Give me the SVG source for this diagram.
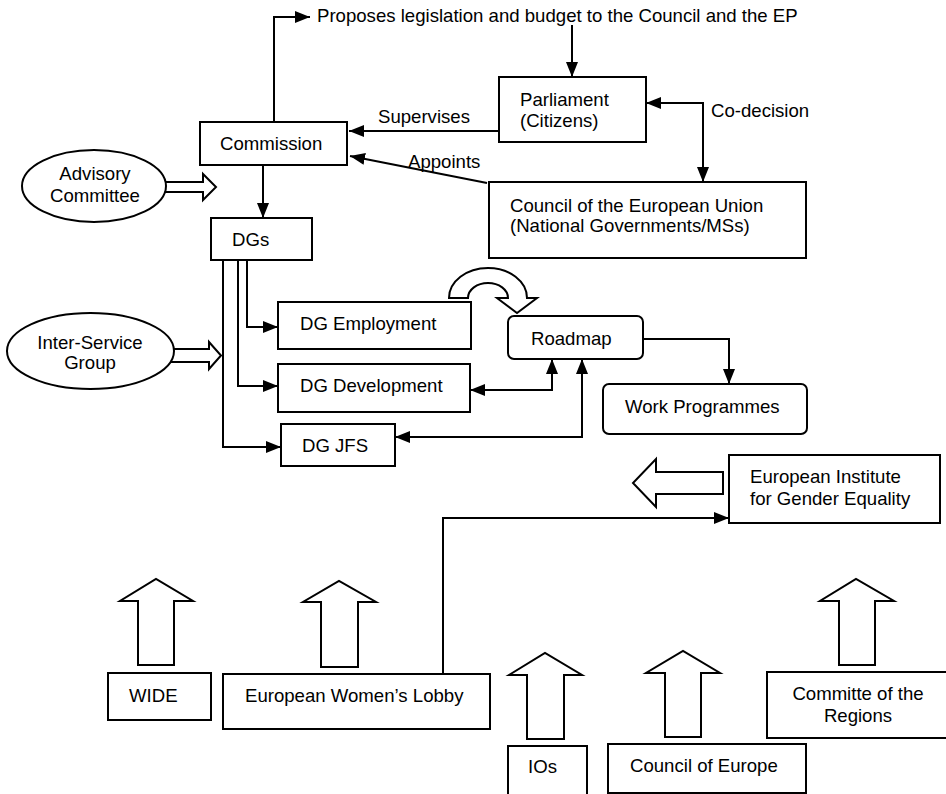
<svg xmlns="http://www.w3.org/2000/svg" width="946" height="794" viewBox="0 0 946 794">
<defs>
<style>
.box{fill:#fff;stroke:#000;stroke-width:2}
.blk{fill:#fff;stroke:#000;stroke-width:2;stroke-linejoin:miter}
.ln{fill:none;stroke:#000;stroke-width:2}
.t{font-family:"Liberation Sans",Arial,sans-serif;font-size:18.6px;fill:#000}
.c{text-anchor:middle}
</style>
<marker id="ah" markerUnits="userSpaceOnUse" markerWidth="15" markerHeight="12" refX="15" refY="6" orient="auto-start-reverse">
<path d="M0,0 L15,6 L0,12 z" fill="#000"/>
</marker>
</defs>
<rect width="946" height="794" fill="#fff"/>

<g id="connectors">
<path class="ln" d="M274,122 V17 H310" marker-end="url(#ah)"/>
<path class="ln" d="M572,25 V77" marker-end="url(#ah)"/>
<path class="ln" d="M499,131 H349" marker-end="url(#ah)"/>
<path class="ln" d="M487,183 L350,156" marker-end="url(#ah)"/>
<path class="ln" d="M646,103 H703 V182" marker-start="url(#ah)" marker-end="url(#ah)"/>
<path class="ln" d="M263,165 V218" marker-end="url(#ah)"/>
<path class="ln" d="M247,260 V327 H278" marker-end="url(#ah)"/>
<path class="ln" d="M238,260 V386 H278" marker-end="url(#ah)"/>
<path class="ln" d="M223,260 V447 H281" marker-end="url(#ah)"/>
<path class="ln" d="M552,359 V390 H470" marker-start="url(#ah)" marker-end="url(#ah)"/>
<path class="ln" d="M582,359 V437 H395" marker-start="url(#ah)" marker-end="url(#ah)"/>
<path class="ln" d="M643,339 H729 V384" marker-end="url(#ah)"/>
<path class="ln" d="M443,674 V518 H729" marker-end="url(#ah)"/>
<text class="t" x="317" y="22">Proposes legislation and budget to the Council and the EP</text>
<text class="t" x="378" y="123">Supervises</text>
<text class="t" x="408" y="168">Appoints</text>
<text class="t" x="711" y="117">Co-decision</text>
<polygon class="blk" points="160,182 203,182 203,174 216,187 203,200 203,192 160,192"/>
<polygon class="blk" points="168,349 209,349 209,342 221,355.5 209,369 209,362 168,362"/>
<path class="blk" d="M449,298 A39,30 0 0 1 527,298 L537,298 L517,313 L497,298 L508,298 A20,15 0 0 0 468,298 Z"/>
<polygon class="blk" points="723,472 656,472 656,459 633,483 656,507 656,494 723,494"/>
<polygon class="blk" points="138,665 138,601 120,601 156,579 193,601 174,601 174,665"/>
<polygon class="blk" points="321,667 321,602 303,602 339,581 376,602 358,602 358,667"/>
<polygon class="blk" points="527,739 527,675 509,675 545,653 582,675 564,675 564,739"/>
<polygon class="blk" points="665,737 665,673 646,673 683,651 720,673 701,673 701,737"/>
<polygon class="blk" points="839,665 839,601 820,601 856,579 894,601 875,601 875,665"/>
</g>

<g id="commission"><rect class="box" x="200" y="122" width="147" height="43"/><text class="t" x="220" y="150">Commission</text></g>
<g id="advisory"><ellipse class="box" cx="94" cy="186" rx="72" ry="36"/><text class="t c" x="95" y="180">Advisory</text><text class="t c" x="95" y="202">Committee</text></g>
<g id="parliament"><rect class="box" x="499" y="77" width="147" height="65"/><text class="t" x="520" y="106">Parliament</text><text class="t" x="520" y="127">(Citizens)</text></g>
<g id="council"><rect class="box" x="489" y="182" width="317" height="76"/><text class="t" x="510" y="212">Council of the European Union</text><text class="t" x="510" y="232">(National Governments/MSs)</text></g>
<g id="dgs"><rect class="box" x="211" y="218" width="101" height="42"/><text class="t" x="232" y="246">DGs</text></g>
<g id="dg-employment"><rect class="box" x="278" y="302" width="193" height="47"/><text class="t" x="300" y="330">DG Employment</text></g>
<g id="dg-development"><rect class="box" x="278" y="364" width="192" height="48"/><text class="t" x="300" y="392">DG Development</text></g>
<g id="dg-jfs"><rect class="box" x="281" y="424" width="114" height="42"/><text class="t" x="302" y="452">DG JFS</text></g>
<g id="inter-service"><ellipse class="box" cx="90.5" cy="351" rx="83.5" ry="38"/><text class="t c" x="90" y="349">Inter-Service</text><text class="t c" x="90" y="369">Group</text></g>
<g id="roadmap"><rect class="box" x="508" y="316" width="135" height="43" rx="6"/><text class="t" x="531" y="345">Roadmap</text></g>
<g id="work-programmes"><rect class="box" x="603" y="384" width="204" height="50" rx="6"/><text class="t" x="625" y="413">Work Programmes</text></g>
<g id="eige"><rect class="box" x="729" y="455" width="211" height="68"/><text class="t" x="750" y="483">European Institute</text><text class="t" x="750" y="505">for Gender Equality</text></g>
<g id="wide"><rect class="box" x="108" y="673" width="103" height="47"/><text class="t" x="129" y="702">WIDE</text></g>
<g id="ewl"><rect class="box" x="223" y="674" width="267" height="55"/><text class="t" x="245" y="702">European Women’s Lobby</text></g>
<g id="ios"><rect class="box" x="508" y="746" width="79" height="60"/><text class="t" x="528" y="773">IOs</text></g>
<g id="council-of-europe"><rect class="box" x="608" y="744" width="198" height="49"/><text class="t" x="630" y="772">Council of Europe</text></g>
<g id="cor"><rect class="box" x="767" y="672" width="190" height="66"/><text class="t c" x="858" y="700">Committe of the</text><text class="t c" x="858" y="722">Regions</text></g>
</svg>
